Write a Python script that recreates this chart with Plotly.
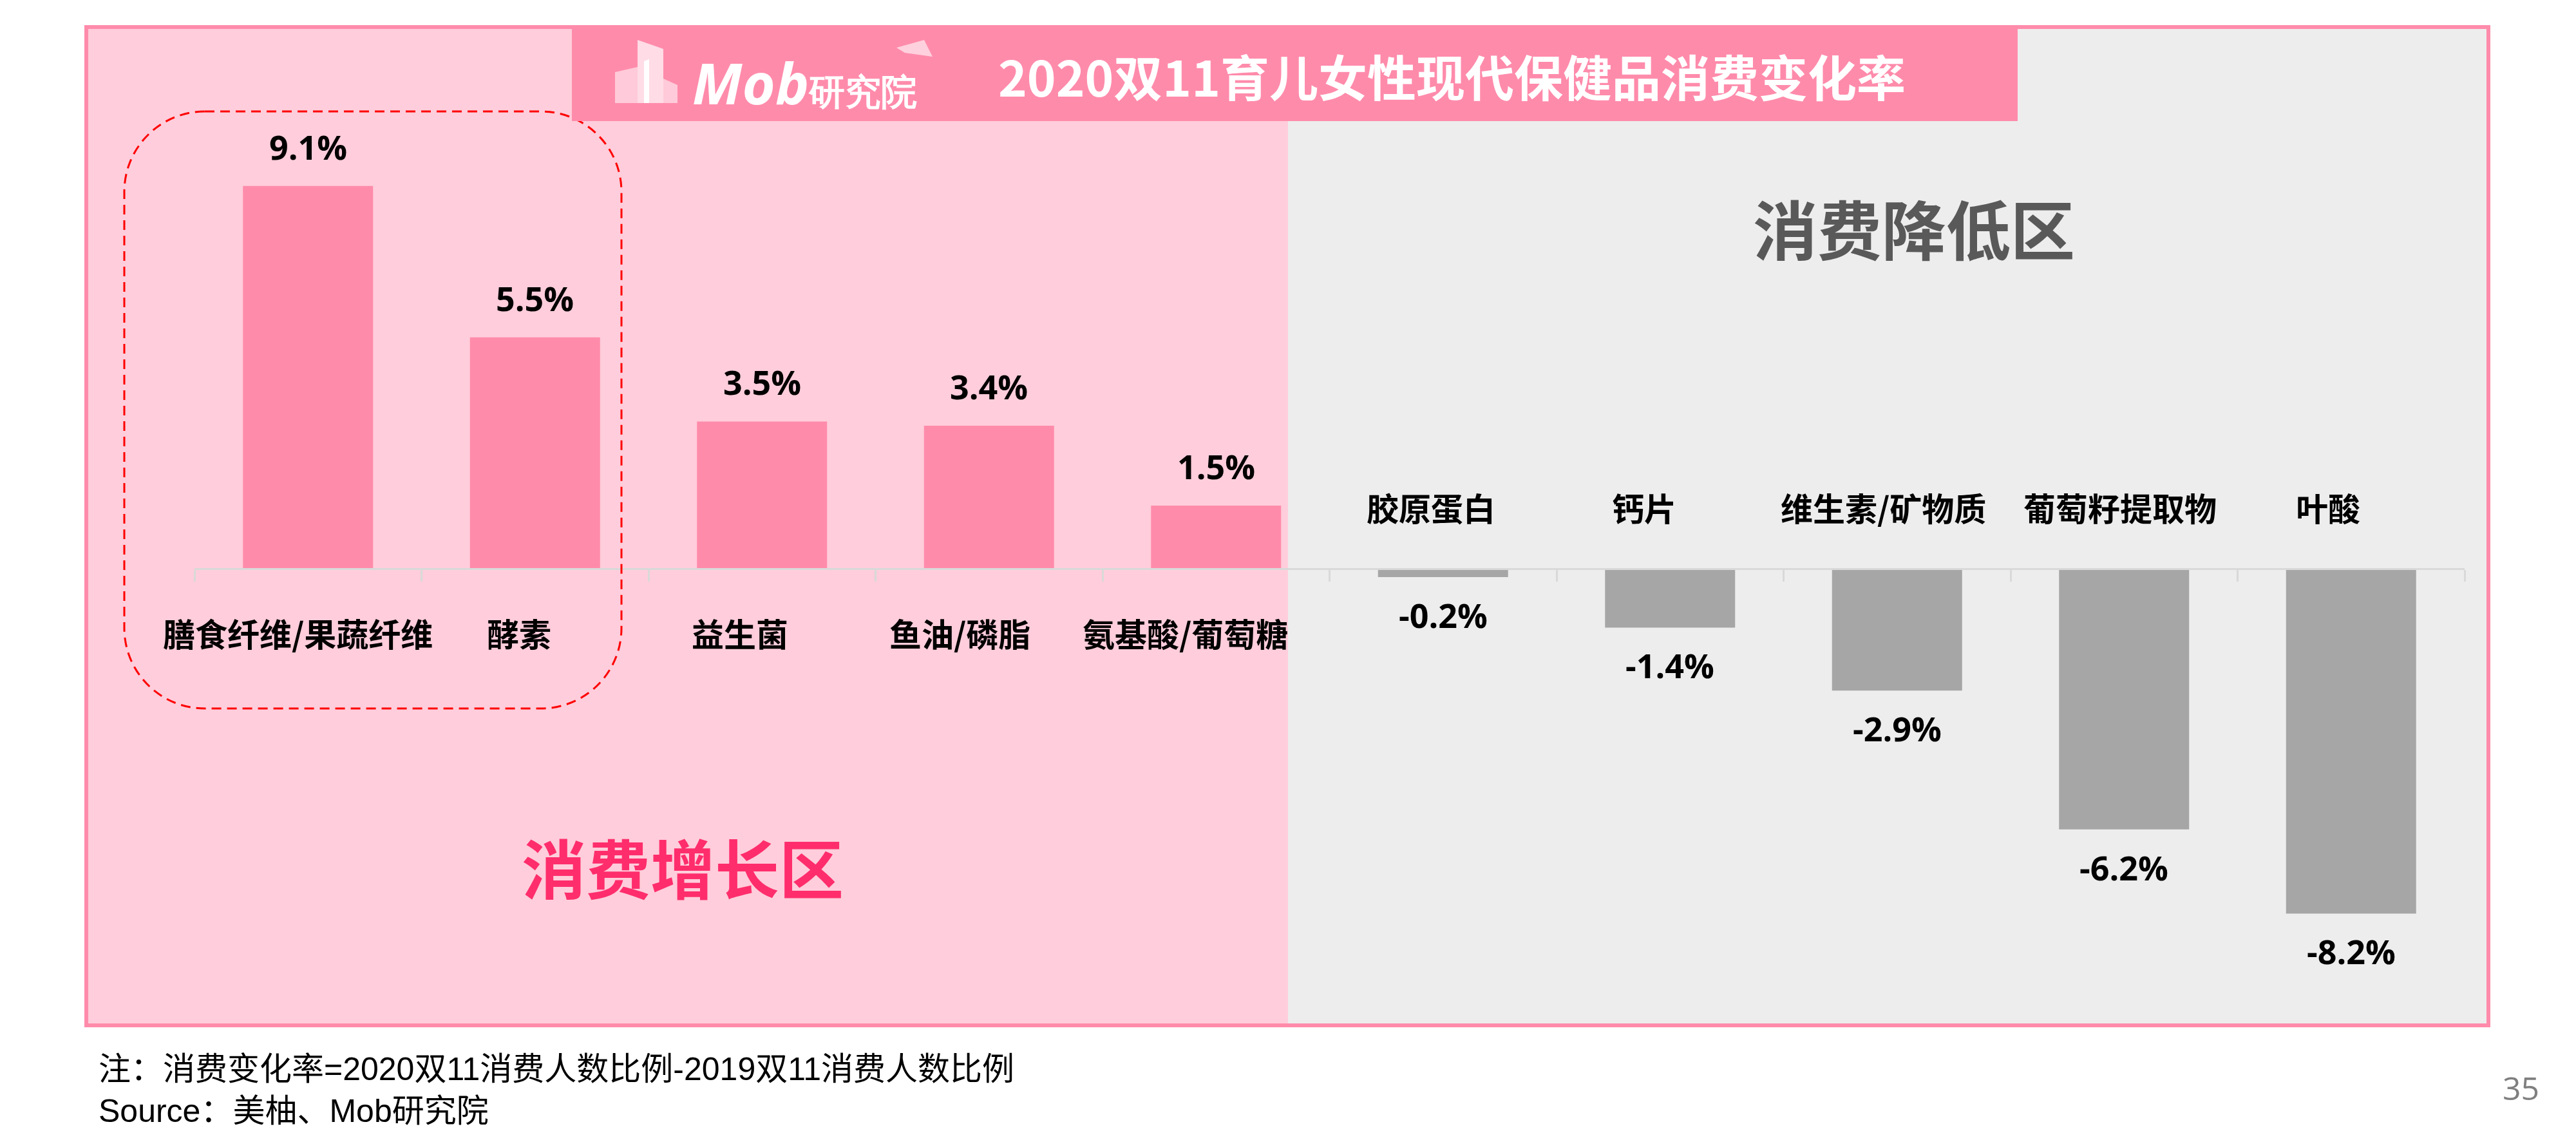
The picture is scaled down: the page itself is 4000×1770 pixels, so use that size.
import plotly.graph_objects as go

# ---------------- data ----------------
categories = ["膳食纤维/果蔬纤维", "酵素", "益生菌", "鱼油/磷脂", "氨基酸/葡萄糖",
              "胶原蛋白", "钙片", "维生素/矿物质", "葡萄籽提取物", "叶酸"]
values = [9.1, 5.5, 3.5, 3.4, 1.5, -0.2, -1.4, -2.9, -6.2, -8.2]

title_text = "2020双11育儿女性现代保健品消费变化率"
zone_up = "消费增长区"
zone_down = "消费降低区"
note_text = "注：消费变化率=2020双11消费人数比例-2019双11消费人数比例"
source_text = "Source：美柚、Mob研究院"
page_no = "35"

# ---------------- layout helpers ----------------
W, H = 4000, 1770
def px(x):
    return x / W
def py(y):
    return 1 - y / H

PINK = "#FF8BAB"
PINK_LIGHT = "#FFCDDB"
GREY_PANEL = "#EDEDED"
GREY_BAR = "#A6A6A6"
CJK = "Noto Sans CJK SC"

# horizontal offsets (px) of category labels relative to the bar centres
label_xshift = [-16, -25, -34, -45, -48, -19, -40, -21, -6, -36]

# vertical scale: zero line at y=883 px, 65.3 px per 1 %
Y0, PX_PER, TOP, BOT = 883, 65.3, 200, 1560
y_range = [-(BOT - Y0) / PX_PER, (Y0 - TOP) / PX_PER]

colors = [PINK if v >= 0 else GREY_BAR for v in values]

fig = go.Figure(go.Bar(
    x=categories, y=values, width=0.573,
    marker=dict(color=colors, line=dict(width=0)),
    hoverinfo="skip",
))

shapes = []
# panels
shapes.append(dict(type="rect", xref="paper", yref="paper", layer="below",
                   x0=px(134), x1=px(2000), y0=py(1592), y1=py(43),
                   fillcolor=PINK_LIGHT, line=dict(width=0)))
shapes.append(dict(type="rect", xref="paper", yref="paper", layer="below",
                   x0=px(2000), x1=px(3864), y0=py(1592), y1=py(43),
                   fillcolor=GREY_PANEL, line=dict(width=0)))
# frame
shapes.append(dict(type="rect", xref="paper", yref="paper", layer="below",
                   x0=px(134), x1=px(3864), y0=py(1592), y1=py(42),
                   fillcolor="rgba(0,0,0,0)", line=dict(width=6, color=PINK)))

# dashed rounded rectangle
x0r, x1r, y0r, y1r, r = 193, 965, 173, 1100, 125
k = 0.5523 * r
def P(x, y):
    return f"{px(x):.6f},{py(y):.6f}"
path = (f"M {P(x0r + r, y0r)} L {P(x1r - r, y0r)} "
        f"C {P(x1r - r + k, y0r)} {P(x1r, y0r + r - k)} {P(x1r, y0r + r)} "
        f"L {P(x1r, y1r - r)} "
        f"C {P(x1r, y1r - r + k)} {P(x1r - r + k, y1r)} {P(x1r - r, y1r)} "
        f"L {P(x0r + r, y1r)} "
        f"C {P(x0r + r - k, y1r)} {P(x0r, y1r - r + k)} {P(x0r, y1r - r)} "
        f"L {P(x0r, y0r + r)} "
        f"C {P(x0r, y0r + r - k)} {P(x0r + r - k, y0r)} {P(x0r + r, y0r)} Z")
shapes.append(dict(type="path", xref="paper", yref="paper", layer="above", path=path,
                   line=dict(color="#FF0000", width=3, dash="15px,9px"),
                   fillcolor="rgba(0,0,0,0)"))

# title box
shapes.append(dict(type="rect", xref="paper", yref="paper", layer="above",
                   x0=px(888), x1=px(3133), y0=py(188), y1=py(40),
                   fillcolor=PINK, line=dict(width=0)))

# logo icon (buildings + cap)
def poly(pts, color):
    d = "M " + " L ".join(P(x, y) for x, y in pts) + " Z"
    return dict(type="path", xref="paper", yref="paper", layer="above", path=d,
                fillcolor=color, line=dict(width=0))
shapes.append(poly([(955, 160), (955, 112), (990, 104), (990, 160)], "rgba(255,255,255,0.55)"))
shapes.append(poly([(990, 160), (990, 62), (1030, 76), (1030, 160)], "rgba(255,255,255,0.7)"))
shapes.append(poly([(1000, 160), (1000, 95), (1008, 92), (1008, 160)], "rgba(255,255,255,0.95)"))
shapes.append(poly([(1030, 160), (1030, 122), (1052, 132), (1052, 160)], "rgba(255,255,255,0.55)"))
shapes.append(poly([(1392, 74), (1435, 62), (1448, 88), (1405, 82)], "rgba(255,255,255,0.6)"))

annotations = []
# value labels
for c, v in zip(categories, values):
    annotations.append(dict(
        x=c, y=v, xref="x", yref="y", text=f"{v:.1f}%", showarrow=False,
        xanchor="center",
        yanchor="bottom" if v >= 0 else "top", yshift=24 if v >= 0 else -21,
        font=dict(family="Open Sans", size=52, color="#000000", weight="bold")))
# category labels
for c, v, dx in zip(categories, values, label_xshift):
    annotations.append(dict(
        x=c, y=0, xref="x", yref="y", text=c, showarrow=False,
        xanchor="center", yanchor="middle", yshift=-99 if v >= 0 else 96, xshift=dx,
        font=dict(family=CJK, size=50, color="#000000", weight="bold")))

def txt(x, y, text, font, xanchor="center"):
    return dict(x=px(x), y=py(y), xref="paper", yref="paper", text=text,
                showarrow=False, xanchor=xanchor, yanchor="middle", font=font)

annotations += [
    txt(2254, 117, title_text, dict(family=CJK, size=76, color="#FFFFFF", weight="bold")),
    txt(1073, 128, "<i>Mob</i><span style='font-size:56px'>研究院</span>",
        dict(family="Open Sans", size=88, color="#FFFFFF", weight="bold"), xanchor="left"),
    txt(1060, 1344, zone_up, dict(family=CJK, size=100, color="#FF2D6C", weight="bold")),
    txt(2972, 352, zone_down, dict(family=CJK, size=100, color="#595959", weight="bold")),
    txt(151, 1660, note_text, dict(family="Liberation Sans, " + CJK, size=50, color="#000000"),
        xanchor="left"),
    txt(151, 1725, source_text, dict(family="Liberation Sans, " + CJK, size=50, color="#000000"),
        xanchor="left"),
    txt(3914, 1689, page_no, dict(family="Open Sans", size=50, color="#7F7F7F")),
]

fig.update_layout(
    width=W, height=H, margin=dict(l=0, r=0, t=0, b=0),
    paper_bgcolor="#FFFFFF", plot_bgcolor="rgba(0,0,0,0)",
    showlegend=False, shapes=shapes, annotations=annotations,
    xaxis=dict(domain=[px(302), px(3827)], anchor="free", position=py(Y0),
               range=[-0.5, len(categories) - 0.5],
               showline=True, linecolor="#D9D9D9", linewidth=3,
               ticks="outside", tickson="boundaries", ticklen=18, tickwidth=3,
               tickcolor="#D9D9D9", showticklabels=False, showgrid=False,
               zeroline=False, fixedrange=True),
    yaxis=dict(domain=[py(BOT), py(TOP)], range=y_range, visible=False,
               showgrid=False, zeroline=False, fixedrange=True),
)

fig.write_html("out.html")
